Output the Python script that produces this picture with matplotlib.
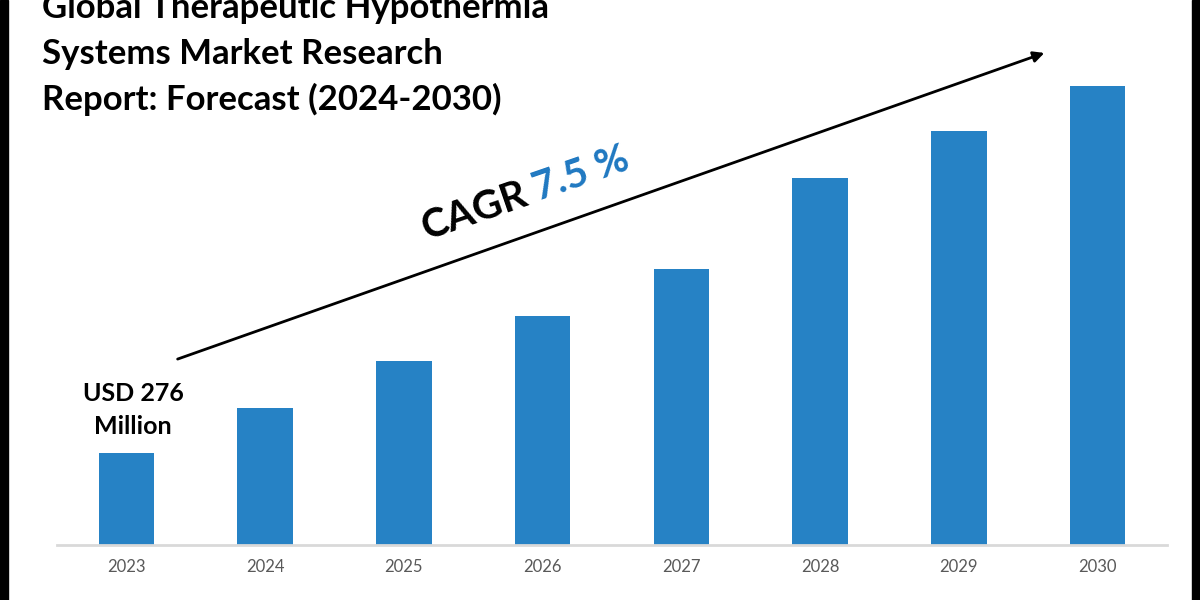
import matplotlib
matplotlib.use('Agg')
import matplotlib.pyplot as plt
from matplotlib.patches import Rectangle

years = ['2023', '2024', '2025', '2026', '2027', '2028', '2029', '2030']
market_size = [276, 411, 552, 687, 828, 1101, 1242, 1377]  # USD million

title_lines = ['Global Therapeutic Hypothermia',
               'Systems Market Research',
               'Report: Forecast (2024-2030)']
cagr_label = 'CAGR'
cagr_value = '7.5 %'
start_label = 'USD 276\nMillion'

BAR_COLOR = '#2682c5'
W, H = 1200, 600

plt.rcParams['font.family'] = ['Lato', 'DejaVu Sans']

fig = plt.figure(figsize=(12, 6), dpi=100)
fig.patch.set_facecolor('white')


def fx(px):
    return px / W


def fy(py):
    return 1 - py / H


ax = fig.add_axes([fx(57), fy(545), fx(1167) - fx(57), fy(60) - fy(545)])
ax.bar(range(len(years)), market_size, width=0.40, color=BAR_COLOR, zorder=2)
ax.set_xlim(-0.5, len(years) - 0.5)
ax.set_ylim(0, 1455)
ax.set_xticks(range(len(years)))
ax.set_xticklabels(years, fontsize=12, color='#595959')
ax.tick_params(axis='x', length=0, pad=10)
ax.set_yticks([])
for side in ['top', 'right', 'left']:
    ax.spines[side].set_visible(False)
ax.spines['bottom'].set_color('#d9d9d9')
ax.spines['bottom'].set_linewidth(2)

# title, top-left (partly cut off at the top)
for i, line in enumerate(title_lines):
    fig.text(fx(42), fy(18 + 46 * i), line, fontsize=25, weight='bold',
             color='black', ha='left', va='baseline')

# growth arrow
ax.annotate('', xy=(fx(1047), fy(52)), xytext=(fx(175), fy(360)),
            xycoords='figure fraction', textcoords='figure fraction',
            arrowprops=dict(arrowstyle='-|>', lw=2, color='black', mutation_scale=16),
            annotation_clip=False)

fig.text(fx(426), fy(240), cagr_label, rotation=19, rotation_mode='anchor',
         ha='left', va='baseline', fontsize=29, weight='bold', color='black')
fig.text(fx(538), fy(201), cagr_value, rotation=19, rotation_mode='anchor',
         ha='left', va='baseline', fontsize=29, weight='bold', color='#1f78c1')

ax.text(0.05, market_size[0] + 45, start_label, ha='center', va='bottom',
        fontsize=18, weight='bold', color='black', linespacing=1.55)

# black side borders
fig.patches.append(Rectangle((0, 0), fx(8), 1, transform=fig.transFigure,
                             color='black', zorder=5))
fig.patches.append(Rectangle((fx(1192), 0), fx(8), 1, transform=fig.transFigure,
                             color='black', zorder=5))

fig.savefig('out.png', dpi=100)
